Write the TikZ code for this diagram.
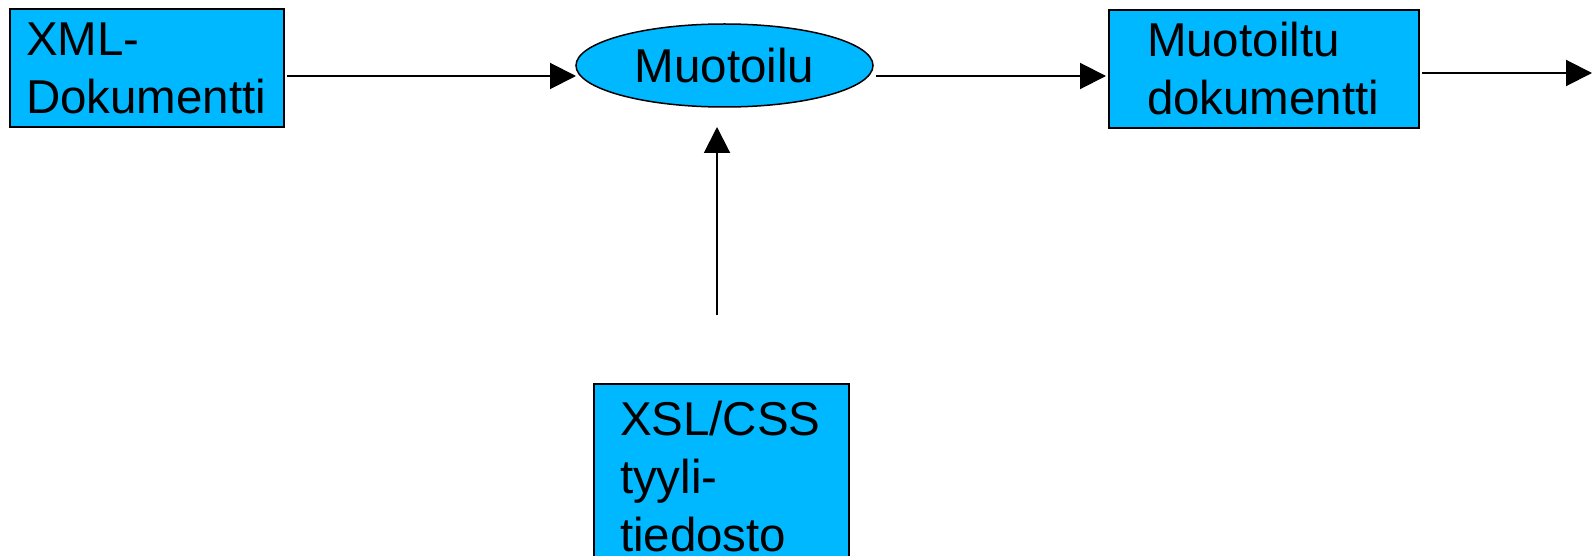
\documentclass[tikz,border=0pt]{standalone}
\usepackage{fontspec}
\setmainfont{Liberation Sans}
\usetikzlibrary{arrows.meta,shapes.geometric}
\definecolor{boxblue}{RGB}{0,184,255}
\begin{document}
\begin{tikzpicture}[x=1pt,y=-1pt,
  txt/.style={font=\fontsize{47.5}{58}\selectfont},
  box/.style={txt,draw=black,line width=1.5pt,fill=boxblue,align=left,
    inner ysep=0pt,outer sep=0pt,anchor=north west},
  oval/.style={txt,draw=black,line width=1.5pt,fill=boxblue,ellipse,
    inner sep=0pt,outer sep=0pt},
  arr/.style={line width=2pt,-{Triangle[length=26pt,width=26pt]}}]
\useasboundingbox (0,0) rectangle (1593,556);
\clip (0,0) rectangle (1593,556);
\node[box,text width=242pt,inner xsep=16pt,minimum height=118pt] (b1) at (10,9) {XML-\\Dokumentti};
\node[oval,minimum width=297pt,minimum height=83pt] (ell) at (724.5,65.5) {Muotoilu};
\node[box,text width=234pt,inner xsep=38pt,minimum height=118pt] (b3) at (1109,10) {Muotoiltu\\dokumentti};
\node[box,text width=203pt,inner xsep=26pt,minimum height=186pt] (b4) at (594,384) {XSL/CSS\\tyyli-\\tiedosto};
\coordinate (out) at (1592,73);
\draw[arr] ([shift={(3pt,-8pt)}]b1.east) -- ([yshift=-10.5pt]ell.west);
\draw[arr] ([shift={(3pt,-10.5pt)}]ell.east) -- ([shift={(-3pt,-7pt)}]b3.west);
\draw[arr] ([shift={(-4.5pt,69pt)}]b4.north) -- ([shift={(-7.5pt,-20pt)}]ell.south);
\draw[arr] ([shift={(3pt,-4pt)}]b3.east) -- (out);
\end{tikzpicture}
\end{document}
